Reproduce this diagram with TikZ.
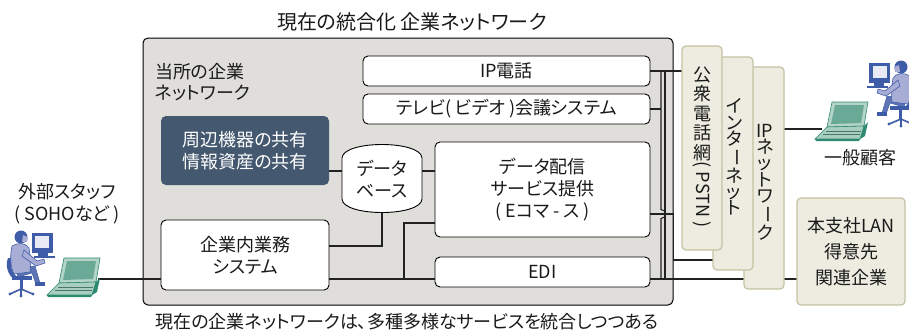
\documentclass[tikz,border=0pt]{standalone}
\usepackage{fontspec}
\setmainfont{Noto Sans CJK JP}[RawFeature=+palt]
\usepackage{graphicx}
\usetikzlibrary{calc}

\definecolor{panel}{HTML}{DFDEDA}
\definecolor{slate}{HTML}{44586F}
\definecolor{beige}{HTML}{EDECE0}
\definecolor{beigeline}{HTML}{C4C2A2}
\definecolor{ink}{HTML}{1A1A1A}
\definecolor{wirecol}{HTML}{222222}
\definecolor{navy}{HTML}{3F5CA8}
\definecolor{lav}{HTML}{A8ADD6}
\definecolor{teal}{HTML}{6BA997}
\definecolor{tealdark}{HTML}{2F8A72}
\definecolor{tealpale}{HTML}{B3D4C6}

\newcommand\jtext{\fontsize{18}{22}\selectfont}
\newcommand\vbar{\rotatebox[origin=c]{-90}{ー}}

% person seated at a desk computer, drawn in local pixel coordinates
\newcommand\deskworker{%
  % chair
  \fill[navy] (8,258) .. controls (5,266) and (8,275) .. (14,279) -- (16,276)
    .. controls (11,272) and (10,265) .. (12,258) -- cycle;
  \fill[navy] (12,276) rectangle (32,280);
  \fill[navy] (20,280) rectangle (23,289);
  \draw[navy, line width=1.6pt, line cap=round] (10,294) -- (21,289) -- (33,294) (21,289) -- (21,296);
  \fill[navy] (10,294) circle (1.6) (33,294) circle (1.6) (21,296) circle (1.6);
  % legs and shoes
  \filldraw[fill=navy!85!white, draw=navy, line width=0.5pt] (16,268) -- (35,266) -- (40,283) -- (36,284)
    -- (32,273) -- (18,277) -- cycle;
  \fill[navy] (35,282) -- (45,282) -- (45,286) -- (35,286) -- cycle;
  % torso
  \filldraw[fill=lav, draw=navy, line width=0.6pt] (12,246) .. controls (18,242) and (26,243) .. (29,248)
    -- (31,262) -- (30,272) -- (14,274) .. controls (10,266) and (10,254) .. (12,246) -- cycle;
  % arm
  \filldraw[fill=lav, draw=navy, line width=0.6pt] (24,250) -- (37,261) -- (44,259) -- (45,263)
    -- (36,266) -- (22,256) -- cycle;
  % head
  \fill[navy] (21,237) circle (6.5);
  \fill[lav] (23,235) -- (28,237) -- (27,242) -- (22,242) -- cycle;
  % monitor
  \fill[navy] (32,233) rectangle (53,253);
  \fill[white!88!navy] (35,236) rectangle (49,248);
  \fill[navy] (38,253) rectangle (48,256);
  \fill[navy] (34,256) rectangle (55,258);
  \fill[navy] (51,244) circle (2.2);
}

% open laptop, drawn in local pixel coordinates
\newcommand\laptop{%
  \filldraw[fill=tealpale, draw=tealdark, line width=0.6pt] (64,258) -- (100,258) -- (96,282) -- (59,283) -- cycle;
  \fill[teal] (67,261) -- (96,261) -- (93,279) -- (63,280) -- cycle;
  \filldraw[fill=tealpale!85!teal, draw=tealdark, line width=0.6pt] (59,283) -- (96,282) -- (92,295) -- (47,295) -- cycle;
  \fill[tealdark] (96,282) -- (100,278) -- (97,292) -- (92,295) -- cycle;
  \fill[tealdark] (47,295) -- (92,295) -- (91,297) -- (48,297) -- cycle;
  \draw[teal!70!black, line width=0.3pt] (58,287) -- (93,287) (55,290) -- (92,290);
}

\begin{document}
\begin{tikzpicture}[x=1pt,y=-1pt,
  every node/.style={font=\jtext, text=ink, inner sep=0pt},
  panelbox/.style={draw=black, line width=1pt, fill=panel, rounded corners=5pt},
  svcbox/.style={draw=black, line width=0.9pt, fill=white, rounded corners=5pt, align=center},
  darkbox/.style={fill=slate, rounded corners=5pt, text=white, align=center},
  netbox/.style={draw=beigeline, line width=1.2pt, fill=beige, rounded corners=4pt},
  vtext/.style={align=center, font=\fontsize{18}{#1}\selectfont},
  wire/.style={draw=wirecol, line width=1.1pt},
]
\useasboundingbox[fill=white] (0,0) rectangle (909,333);

% row and column levels of the wiring
\coordinate (r170) at (0,171);
\coordinate (r214) at (0,214);
\coordinate (r223) at (0,223);
\coordinate (r246) at (0,246);
\coordinate (r260) at (0,260);
\coordinate (r279) at (0,279);
\coordinate (c404) at (404,0);
\coordinate (c661) at (661,0);
\coordinate (c665) at (665,0);
\coordinate (lapL) at (98,279);
\coordinate (lapR) at (822,129);

% titles
\node[font=\fontsize{20}{24}\selectfont] (title) at (412,22) {現在の統合化 企業ネットワーク};
\node[font=\fontsize{18}{22}\selectfont] (caption) at (407,322) {現在の企業ネットワークは、多種多様なサービスを統合しつつある};

% corporate network panel
\node[panelbox, minimum width=530pt, minimum height=267pt] (panel) at (408,171.5) {};
\node[anchor=west, align=left, font=\fontsize{18}{21}\selectfont] (own) at (155,82) {当所の企業\\ネットワーク};

\node[svcbox, minimum width=287pt, minimum height=30pt] (ip) at (506.5,71) {IP電話};
\node[svcbox, minimum width=287pt, minimum height=30pt] (tv) at (506.5,109) {テレビ( ビデオ )会議システム};
\node[darkbox, minimum width=168pt, minimum height=69pt] (share) at (245,150.5) {周辺機器の共有\\情報資産の共有};
\node[svcbox, minimum width=168pt, minimum height=70pt] (gyomu) at (245,255) {企業内業務\\システム};
\node[svcbox, minimum width=215pt, minimum height=95pt] (data) at (542.5,189.5) {データ配信\\サービス提供\\( Eコマ - ス )};
\node[svcbox, minimum width=215pt, minimum height=30pt] (edi) at (542.5,272) {EDI};

% database drum
\draw[fill=white, line width=0.9pt] (342,158) .. controls (343,140) and (421,140) .. (422,158)
  -- (422,199) .. controls (421,217) and (343,217) .. (342,199) -- cycle;
\node[align=center, minimum width=80pt, minimum height=67pt] (db) at (382,179) {データ\\ベース};

% internal wiring
\draw[wire] (share.east |- r170) -- (db.west |- r170);
\draw[wire] (db.east |- r170) -- (data.west |- r170);
\draw[wire] (db.south) |- (gyomu.east |- r246);
\draw[wire] (gyomu.east |- r279) -- (edi.west |- r279);
\draw[wire] (c404 |- r279) |- (data.west |- r223);
\draw[wire] (lapL) -- (gyomu.west |- lapL);

% outgoing wiring
\draw[wire] (ip.east) -- (702,71);
\draw[wire] (tv.east) -- (c661 |- tv.east);
\draw[wire] (c661 |- ip.east) -- (661,209.5) .. controls (667,209.5) and (667,218.5) .. (661,218.5) -- (c661 |- r279);
\draw[wire] (c665 |- ip.east) -- (c665 |- r279);
\draw[wire] (data.east |- r214) -- (panel.east |- r214) -- (panel.east |- r260) -- (730,260);
\draw[wire] (edi.east |- r279) -- (760,279);
\draw[wire] (lapR) -- (780,129);
\draw[wire] (780,279) -- (800,279);

% carrier networks
\node[netbox, minimum width=40pt, minimum height=222pt] (ipnet) at (764,178) {};
\node[netbox, minimum width=40pt, minimum height=213pt] (inet) at (733,163.5) {};
\node[netbox, minimum width=40pt, minimum height=204pt] (pstn) at (702,148) {};
\node[netbox, minimum width=108pt, minimum height=107pt, align=center, font=\fontsize{18}{26}\selectfont] (corp) at (851,251.5) {本支社LAN\\得意先\\関連企業};

\node[vtext=19.5] (pstnT) at (702,147) {公\\衆\\電\\話\\網\\\rotatebox[origin=c]{-90}{( PSTN )}};
\node[vtext=16.3] (inetT) at (734,157) {イ\\ン\\タ\\\vbar\\ネ\\ッ\\ト};
\node[vtext=16.3] (ipnetT) at (765,182) {IP\\ネ\\ッ\\ト\\ワ\\\vbar\\ク};

% users
\node[align=center] (staff) at (67,204) {外部スタッフ\\( SOHOなど )};
\node (client) at (860,158) {一般顧客};

\deskworker
\laptop
\begin{scope}[shift={(922,-170)}, xscale=-1]
  \deskworker
\end{scope}
\begin{scope}[shift={(768,-156)}]
  \laptop
\end{scope}
\end{tikzpicture}
\end{document}
